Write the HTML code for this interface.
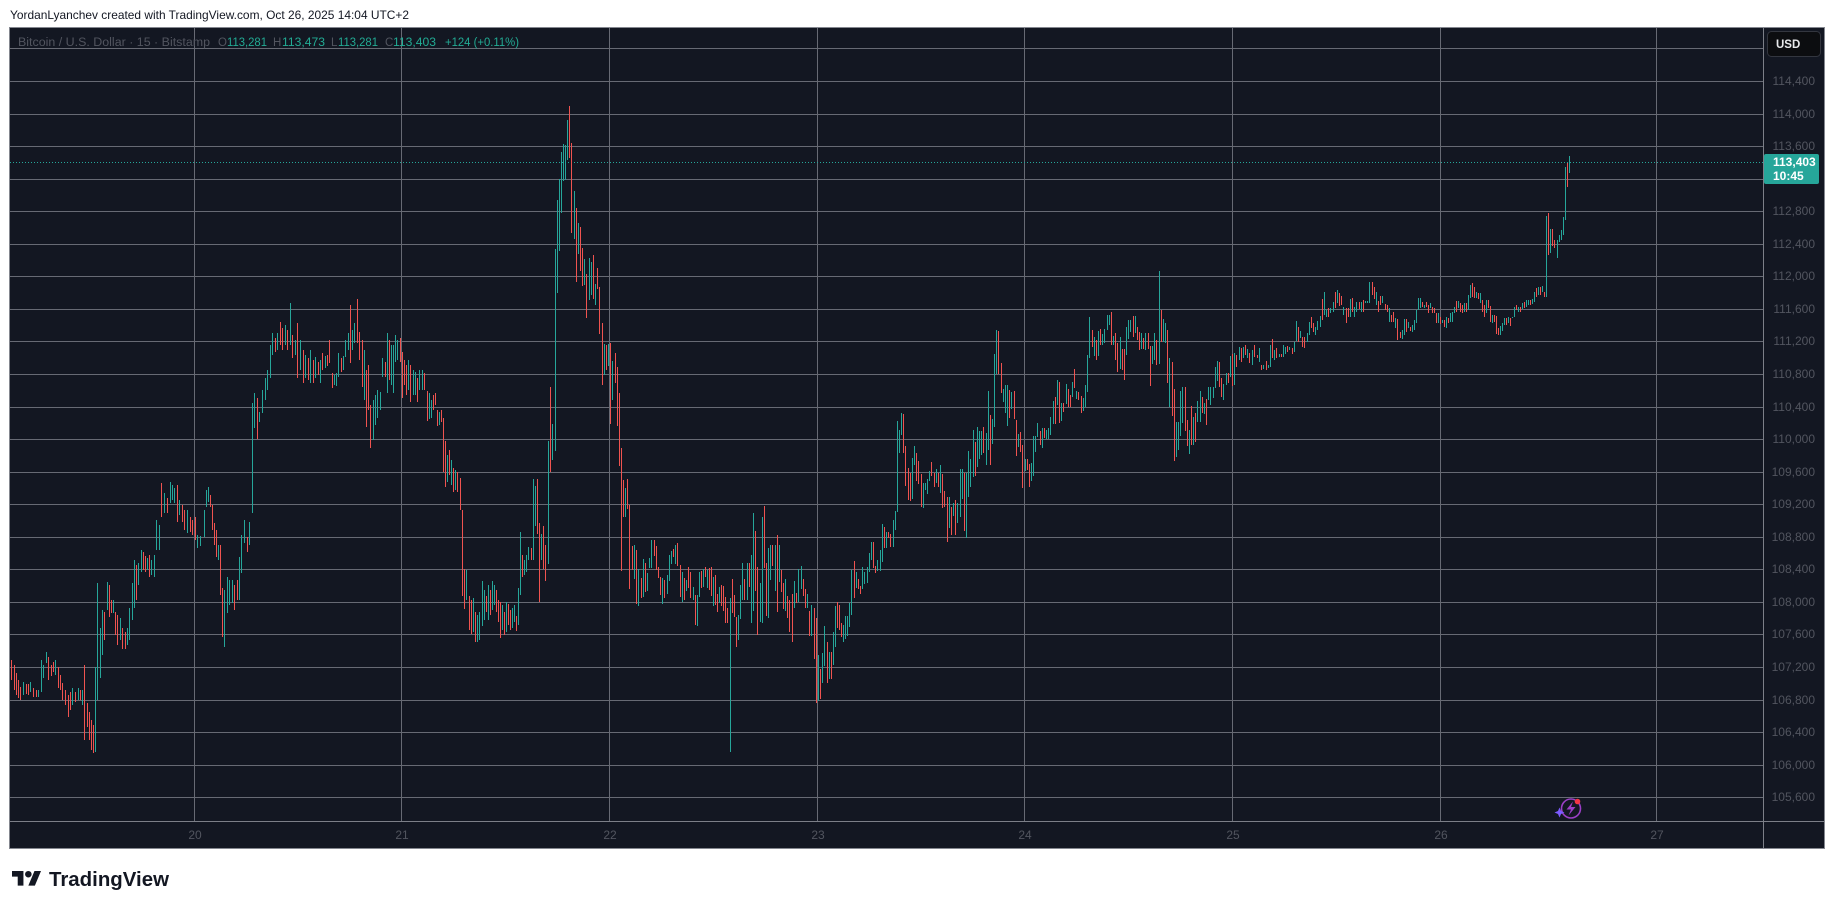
<!DOCTYPE html>
<html><head><meta charset="utf-8"><style>
html,body{margin:0;padding:0;background:#fff;overflow:hidden}
svg{display:block}
text{font-family:"Liberation Sans",Arial,sans-serif}
</style></head><body>
<svg width="1835" height="909" viewBox="0 0 1835 909" xmlns="http://www.w3.org/2000/svg">
<rect width="1835" height="909" fill="#ffffff"/>
<text x="10" y="19" font-size="12" fill="#131722" textLength="399" lengthAdjust="spacingAndGlyphs">YordanLyanchev created with TradingView.com, Oct 26, 2025 14:04 UTC+2</text>
<rect x="9.5" y="27.5" width="1815" height="821" fill="#131722" stroke="#84878f" stroke-width="1"/>
<g stroke="#676a74" stroke-width="1" fill="none">
<path d="M10 48.5H1763M10 81.5H1763M10 114.5H1763M10 146.5H1763M10 179.5H1763M10 211.5H1763M10 244.5H1763M10 276.5H1763M10 309.5H1763M10 341.5H1763M10 374.5H1763M10 407.5H1763M10 439.5H1763M10 472.5H1763M10 504.5H1763M10 537.5H1763M10 569.5H1763M10 602.5H1763M10 634.5H1763M10 667.5H1763M10 700.5H1763M10 732.5H1763M10 765.5H1763M10 797.5H1763"/>
<path d="M194.5 28V821M401.5 28V821M609.5 28V821M817.5 28V821M1024.5 28V821M1232.5 28V821M1440.5 28V821M1656.5 28V821"/>
</g>
<path d="M1763.5 28V848M10 821.5H1824" stroke="#7c7f88" stroke-width="1"/>
<path d="M10 162.5H1763" stroke="#26a69a" stroke-width="1" stroke-dasharray="1 2"/>
<path fill="none" stroke="#26a69a" stroke-width="1" d="M23.5 682V695M30.5 682V692M38.5 690V697M41.5 660V692M43.5 665V678M46.5 652V663M55.5 660V675M72.5 688V705M78.5 688V700M82.5 690V705M95.5 667V752M97.5 583V700M100.5 628V678M102.5 610V655M107.5 582V610M113.5 600V613M120.5 618V640M127.5 628V645M129.5 608V640M132.5 583V620M134.5 560V608M138.5 563V585M141.5 550V572M147.5 558V570M151.5 560V575M154.5 555V577M156.5 520V550M159.5 525V550M164.5 493V513M170.5 482V503M172.5 485V500M174.5 488V503M179.5 500V515M187.5 510V533M197.5 535V548M200.5 536V546M204.5 510V537M206.5 490V507M208.5 487V502M218.5 545V560M224.5 590V647M227.5 577V613M229.5 580V605M232.5 580V603M239.5 557V600M241.5 535V573M244.5 520V543M249.5 522V545M252.5 403V513M254.5 393V428M259.5 412V422M262.5 390V413M265.5 378V400M267.5 370V390M270.5 345V378M272.5 333V355M277.5 333V350M285.5 325V345M290.5 303V345M295.5 340V355M300.5 340V370M305.5 355V378M310.5 350V383M315.5 357V378M320.5 360V383M325.5 356V368M334.5 375V385M336.5 373V386M338.5 353V377M343.5 356V370M345.5 340V357M348.5 333V350M352.5 330V350M354.5 323V343M364.5 350V400M373.5 400V440M375.5 395V425M377.5 390V418M380.5 392V410M382.5 358V377M387.5 333V393M391.5 345V385M393.5 345V393M395.5 335V362M397.5 340V360M408.5 360V390M413.5 370V395M415.5 372V395M419.5 370V390M422.5 370V390M429.5 393V419M431.5 400V418M439.5 412V425M447.5 455V482M451.5 460V485M455.5 470V490M466.5 570V600M473.5 598V632M477.5 615V642M479.5 612V640M482.5 581V626M484.5 590V620M488.5 585V620M492.5 581V610M494.5 585V605M502.5 605V630M506.5 602V632M512.5 608V628M514.5 605V622M518.5 588V625M520.5 532V595M524.5 560V575M526.5 555V572M528.5 547V560M533.5 479V560M535.5 486V526M541.5 534V560M548.5 441V564M552.5 424V460M555.5 249V451M557.5 200V293M559.5 179V251M561.5 152V213M563.5 144V181M565.5 145V180M567.5 120V160M574.5 191V239M578.5 223V254M584.5 259V285M589.5 258V300M591.5 262V295M595.5 284V305M604.5 344V375M608.5 344V366M612.5 361V400M625.5 488V517M634.5 545V579M638.5 569V606M643.5 559V597M647.5 573V591M649.5 558V568M651.5 540V568M662.5 578V604M667.5 575V594M669.5 555V581M671.5 551V564M675.5 545V564M682.5 572V602M686.5 580V591M693.5 587V600M697.5 595V626M699.5 572V597M703.5 569V587M707.5 570V588M713.5 577V606M719.5 587V603M730.5 598V752M738.5 615V640M740.5 585V619M742.5 563V600M747.5 563V600M751.5 555V623M753.5 513V611M760.5 583V622M762.5 517V623M768.5 548V618M770.5 545V580M775.5 545V591M779.5 545V582M785.5 579V611M794.5 581V608M798.5 569V602M801.5 566V589M807.5 594V608M811.5 605V636M818.5 655V701M822.5 653V683M824.5 626V666M829.5 652V679M833.5 632V665M835.5 606V647M843.5 625V642M845.5 616V639M847.5 616V636M849.5 603V627M851.5 570V615M856.5 572V588M862.5 567V589M864.5 572V584M867.5 567V583M869.5 553V572M871.5 542V560M877.5 560V571M880.5 550V571M882.5 524V562M886.5 532V548M893.5 520V547M895.5 511V530M897.5 421V512M899.5 430V453M901.5 413V435M912.5 458V499M914.5 446V465M923.5 483V508M925.5 483V490M927.5 479V494M929.5 471V481M936.5 469V483M940.5 465V493M949.5 497V528M953.5 503V516M957.5 503V523M960.5 469V517M962.5 469V499M966.5 473V538M968.5 451V497M970.5 459V487M973.5 430V477M977.5 427V467M979.5 431V459M981.5 431V455M986.5 433V465M988.5 391V450M992.5 419V444M994.5 354V427M996.5 330V374M1003.5 389V402M1005.5 385V413M1007.5 385V426M1011.5 392V409M1018.5 434V447M1025.5 459V471M1031.5 463V481M1033.5 436V476M1035.5 436V452M1037.5 423V437M1042.5 428V448M1046.5 430V439M1048.5 428V439M1050.5 417V435M1053.5 401V424M1057.5 380V405M1061.5 403V421M1066.5 384V404M1072.5 382V397M1076.5 391V399M1083.5 398V411M1085.5 385V407M1087.5 355V392M1089.5 317V358M1094.5 337V356M1098.5 331V356M1102.5 334V345M1104.5 329V343M1107.5 315V330M1109.5 315V325M1113.5 336V345M1120.5 337V369M1126.5 327V355M1128.5 320V339M1130.5 320V332M1135.5 316V333M1141.5 333V349M1145.5 333V350M1152.5 346V364M1154.5 333V360M1159.5 271V364M1163.5 319V342M1165.5 323V343M1169.5 358V407M1176.5 422V457M1178.5 422V450M1180.5 391V436M1182.5 387V423M1189.5 430V454M1193.5 417V445M1197.5 401V422M1200.5 391V422M1204.5 403V414M1208.5 387V400M1210.5 387V405M1213.5 387V398M1215.5 367V388M1217.5 361V381M1223.5 384V400M1226.5 373V385M1230.5 356V377M1234.5 353V385M1239.5 347V360M1243.5 347V358M1247.5 349V358M1252.5 350V365M1259.5 348V362M1263.5 365V369M1268.5 365V368M1270.5 345V367M1274.5 350V360M1279.5 354V357M1283.5 345V357M1285.5 347V354M1289.5 347V350M1294.5 342V352M1296.5 321V341M1300.5 331V338M1307.5 333V342M1309.5 322V335M1315.5 327V335M1317.5 321V330M1320.5 316V327M1324.5 292V315M1326.5 310V317M1330.5 308V313M1333.5 302V312M1337.5 290V303M1343.5 307V315M1350.5 299V317M1354.5 307V317M1356.5 302V312M1361.5 302V312M1365.5 301V303M1367.5 301V303M1369.5 282V303M1376.5 292V305M1382.5 296V303M1389.5 308V322M1395.5 318V328M1402.5 330V339M1404.5 319V335M1408.5 322V328M1412.5 325V332M1414.5 320V330M1416.5 310V323M1418.5 298V310M1420.5 298V308M1424.5 305V308M1430.5 303V308M1438.5 313V323M1442.5 320V323M1446.5 317V328M1450.5 313V322M1452.5 312V322M1454.5 307V313M1458.5 301V308M1464.5 303V312M1468.5 295V310M1470.5 285V298M1476.5 292V298M1480.5 293V303M1486.5 300V313M1492.5 315V323M1500.5 326V335M1502.5 323V331M1504.5 318V325M1508.5 317V323M1512.5 317V318M1514.5 307V317M1518.5 307V312M1522.5 303V309M1526.5 300V307M1528.5 300V305M1532.5 299V304M1534.5 292V302M1538.5 287V295M1542.5 286V292M1546.5 216V297M1550.5 229V253M1557.5 240V258M1559.5 235V242M1561.5 230V240M1563.5 217V235M1565.5 167V220M1569.5 156V173"/>
<path fill="none" stroke="#ef5350" stroke-width="1" d="M11.5 660V680M14.5 665V690M16.5 673V695M18.5 680V698M20.5 687V700M26.5 684V694M28.5 684V695M33.5 688V697M36.5 690V697M48.5 657V680M51.5 665V676M53.5 662V672M58.5 667V688M60.5 675V690M62.5 683V700M65.5 690V705M68.5 695V717M70.5 692V710M75.5 692V702M80.5 690V700M84.5 665V740M87.5 703V727M89.5 712V740M91.5 720V750M93.5 725V753M104.5 612V640M109.5 585V617M111.5 600V613M115.5 612V635M117.5 615V645M122.5 628V649M125.5 632V649M136.5 565V600M143.5 552V570M145.5 556V572M149.5 555V577M161.5 483V517M167.5 498V513M177.5 485V522M182.5 505V522M184.5 510V530M190.5 517V532M192.5 520V535M195.5 517V540M210.5 495V507M212.5 505V530M214.5 523V545M216.5 530V557M220.5 545V595M222.5 588V637M234.5 585V610M237.5 580V600M247.5 537V552M257.5 398V439M275.5 338V352M280.5 322V345M282.5 328V350M287.5 330V350M292.5 335V358M297.5 323V378M303.5 350V383M308.5 358V380M313.5 360V383M318.5 362V375M322.5 353V370M327.5 355V366M329.5 340V363M332.5 373V388M341.5 358V372M350.5 305V363M357.5 299V343M359.5 332V360M362.5 340V387M366.5 370V427M368.5 365V410M370.5 405V448M385.5 362V377M389.5 340V380M400.5 338V362M402.5 352V398M404.5 360V385M406.5 365V395M410.5 365V402M417.5 378V402M424.5 373V390M427.5 391V421M433.5 395V410M435.5 393V405M437.5 410V426M441.5 410V422M443.5 418V472M445.5 441V487M449.5 450V475M453.5 468V492M457.5 472V492M460.5 478V510M462.5 510V596M464.5 569V609M469.5 596V630M471.5 600V634M475.5 612V642M486.5 596V612M490.5 590V615M496.5 590V612M498.5 600V622M500.5 602V638M504.5 612V635M508.5 604V625M510.5 610V630M516.5 616V631M522.5 555V577M531.5 548V560M537.5 479V534M539.5 523V602M543.5 526V569M545.5 545V581M550.5 387V472M569.5 106V158M571.5 143V233M576.5 208V282M580.5 227V271M582.5 248V286M586.5 274V318M593.5 255V299M597.5 268V289M599.5 287V334M602.5 323V385M606.5 345V370M610.5 343V424M615.5 353V383M617.5 367V426M619.5 393V466M621.5 448V571M623.5 480V517M627.5 479V509M629.5 505V589M632.5 546V570M636.5 550V604M641.5 578V598M645.5 563V592M654.5 540V556M656.5 546V570M658.5 567V578M660.5 577V595M664.5 580V598M673.5 549V557M677.5 543V566M680.5 565V597M684.5 578V600M688.5 567V588M690.5 572V598M695.5 595V625M701.5 571V588M705.5 567V577M709.5 568V590M711.5 567V596M715.5 575V605M717.5 594V612M721.5 585V606M723.5 586V611M725.5 597V623M727.5 608V623M732.5 579V613M734.5 595V617M736.5 617V647M744.5 579V600M749.5 563V587M755.5 531V591M757.5 567V635M764.5 506V568M766.5 563V616M772.5 545V566M777.5 535V612M781.5 570V592M783.5 583V609M787.5 596V618M789.5 600V632M792.5 594V642M796.5 593V603M803.5 579V596M805.5 589V608M809.5 611V636M814.5 608V659M816.5 618V703M820.5 669V699M827.5 642V683M831.5 652V679M837.5 602V628M839.5 605V630M841.5 623V637M854.5 561V598M858.5 579V589M860.5 586V594M873.5 542V568M875.5 566V573M884.5 527V548M888.5 532V538M890.5 534V547M903.5 414V453M905.5 446V486M908.5 468V500M910.5 473V501M916.5 453V481M918.5 461V484M921.5 474V507M931.5 462V476M934.5 473V487M938.5 473V487M942.5 474V508M944.5 491V507M947.5 497V542M951.5 507V535M955.5 500V535M964.5 473V531M975.5 442V476M983.5 427V453M990.5 415V465M998.5 331V374M1001.5 363V393M1009.5 390V418M1014.5 391V419M1016.5 420V456M1020.5 432V452M1022.5 445V488M1027.5 459V470M1029.5 464V487M1040.5 431V445M1044.5 428V438M1055.5 397V424M1059.5 382V423M1063.5 403V412M1068.5 389V407M1070.5 395V407M1074.5 369V388M1078.5 392V400M1081.5 396V413M1092.5 330V347M1096.5 340V360M1100.5 329V345M1111.5 312V345M1115.5 333V360M1117.5 343V372M1122.5 349V370M1124.5 349V380M1133.5 316V337M1137.5 327V340M1139.5 332V350M1143.5 338V349M1148.5 333V349M1150.5 346V386M1156.5 340V365M1161.5 310V342M1167.5 330V383M1172.5 362V416M1174.5 389V461M1185.5 387V431M1187.5 420V446M1191.5 406V445M1195.5 413V442M1202.5 397V413M1206.5 399V425M1219.5 362V387M1221.5 378V397M1228.5 373V383M1232.5 354V386M1236.5 355V367M1241.5 348V362M1245.5 345V355M1249.5 353V363M1254.5 345V357M1257.5 355V358M1261.5 365V370M1266.5 361V370M1272.5 339V358M1276.5 348V358M1281.5 354V357M1287.5 346V352M1292.5 348V354M1298.5 327V342M1302.5 337V347M1304.5 337V348M1311.5 317V328M1313.5 323V332M1322.5 299V320M1328.5 308V317M1335.5 292V308M1339.5 293V306M1341.5 296V305M1346.5 308V323M1348.5 308V317M1352.5 298V312M1359.5 302V309M1363.5 300V312M1372.5 282V295M1374.5 287V299M1378.5 301V312M1380.5 296V305M1385.5 304V310M1387.5 305V312M1391.5 315V322M1393.5 312V322M1397.5 319V340M1400.5 332V338M1406.5 319V332M1410.5 327V331M1422.5 302V307M1426.5 302V307M1428.5 305V313M1432.5 307V313M1434.5 308V313M1436.5 313V323M1440.5 317V324M1444.5 320V327M1448.5 318V323M1456.5 301V312M1460.5 303V312M1462.5 305V313M1466.5 303V312M1472.5 283V297M1474.5 287V298M1478.5 293V299M1482.5 300V312M1484.5 305V317M1488.5 300V308M1490.5 306V322M1494.5 315V322M1496.5 316V334M1498.5 328V335M1506.5 318V325M1510.5 318V326M1516.5 305V310M1520.5 307V312M1524.5 302V308M1530.5 300V305M1536.5 288V297M1540.5 287V295M1544.5 292V297M1548.5 213V255M1552.5 229V246M1554.5 240V248M1567.5 163V187"/>
<g font-size="12" fill="#52555f" text-anchor="end">
<text x="1815" y="85">114,400</text>
<text x="1815" y="118">114,000</text>
<text x="1815" y="150">113,600</text>
<text x="1815" y="215">112,800</text>
<text x="1815" y="248">112,400</text>
<text x="1815" y="280">112,000</text>
<text x="1815" y="313">111,600</text>
<text x="1815" y="345">111,200</text>
<text x="1815" y="378">110,800</text>
<text x="1815" y="411">110,400</text>
<text x="1815" y="443">110,000</text>
<text x="1815" y="476">109,600</text>
<text x="1815" y="508">109,200</text>
<text x="1815" y="541">108,800</text>
<text x="1815" y="573">108,400</text>
<text x="1815" y="606">108,000</text>
<text x="1815" y="638">107,600</text>
<text x="1815" y="671">107,200</text>
<text x="1815" y="704">106,800</text>
<text x="1815" y="736">106,400</text>
<text x="1815" y="769">106,000</text>
<text x="1815" y="801">105,600</text>
</g>
<g font-size="12" fill="#52555f" text-anchor="middle">
<text x="195" y="839">20</text>
<text x="402" y="839">21</text>
<text x="610" y="839">22</text>
<text x="818" y="839">23</text>
<text x="1025" y="839">24</text>
<text x="1233" y="839">25</text>
<text x="1441" y="839">26</text>
<text x="1657" y="839">27</text>
</g>
<rect x="1767.5" y="31.5" width="53" height="25" rx="4" fill="#0c0d10" stroke="#33363f" stroke-width="1"/>
<text x="1776" y="48" font-size="11.5" font-weight="bold" fill="#e8e9ec">USD</text>
<rect x="1764" y="154" width="55" height="30" rx="2" fill="#26a69a"/>
<text x="1773" y="166" font-size="12" font-weight="bold" fill="#ffffff">113,403</text>
<text x="1773" y="180" font-size="12" font-weight="bold" fill="#ffffff">10:45</text>
<g font-size="11.5">
<text x="18" y="46" fill="#52555f" textLength="192" lengthAdjust="spacingAndGlyphs">Bitcoin / U.S. Dollar · 15 · Bitstamp</text>
<text x="218" y="46" fill="#52555f">O</text>
<text x="227" y="46" fill="#22ab94" textLength="40" lengthAdjust="spacingAndGlyphs">113,281</text>
<text x="273" y="46" fill="#52555f">H</text>
<text x="282" y="46" fill="#22ab94" textLength="43" lengthAdjust="spacingAndGlyphs">113,473</text>
<text x="331" y="46" fill="#52555f">L</text>
<text x="338" y="46" fill="#22ab94" textLength="40" lengthAdjust="spacingAndGlyphs">113,281</text>
<text x="385" y="46" fill="#52555f">C</text>
<text x="393" y="46" fill="#22ab94" textLength="43" lengthAdjust="spacingAndGlyphs">113,403</text>
<text x="445" y="46" fill="#22ab94" textLength="74" lengthAdjust="spacingAndGlyphs">+124 (+0.11%)</text>
</g>
<g>
<circle cx="1571" cy="808.5" r="9.5" fill="none" stroke="#9b3fc6" stroke-width="1.6"/>
<path d="M1573 801.5L1566.5 809.5H1571L1568.5 815.5L1575.5 807H1571Z" fill="#9b3fc6"/>
<circle cx="1577.5" cy="801.5" r="2.8" fill="#f23645"/>
<path d="M1559.5 807.5L1561 811L1564.5 812.5L1561 814L1559.5 817.5L1558 814L1554.5 812.5L1558 811Z" fill="#7c5cff"/>
</g>
<g fill="#131722">
<g transform="translate(12,867.7) scale(0.817)">
<path d="M14 22H7V11H0V4h14v18zM28 22h-8l7.5-18h8L28 22z"/>
<circle cx="20" cy="8" r="4"/>
</g>
<text x="49" y="886" font-size="20" font-weight="bold" textLength="120" lengthAdjust="spacingAndGlyphs">TradingView</text>
</g>
</svg>
</body></html>
